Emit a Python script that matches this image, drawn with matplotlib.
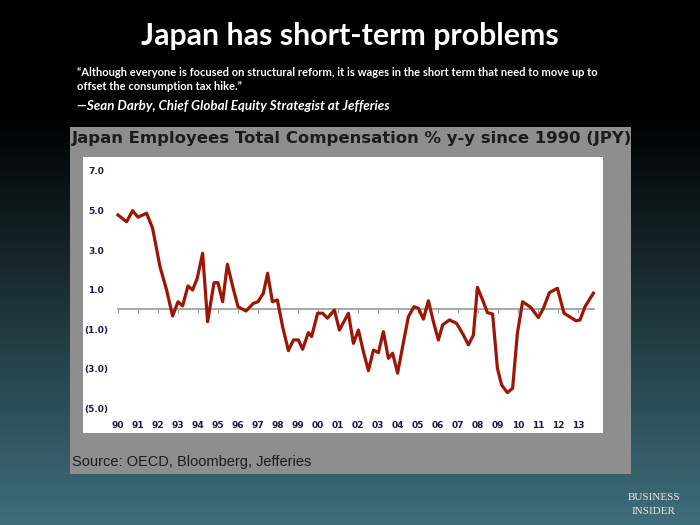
import matplotlib
matplotlib.use('Agg')
import matplotlib.pyplot as plt
import numpy as np
from matplotlib.patches import Rectangle
from matplotlib.colors import LinearSegmentedColormap

# decimal year, % y-y
years = [1990.0, 1990.43, 1990.73, 1991.0, 1991.43, 1991.73, 1992.1, 1992.43, 1992.73,
         1993.0, 1993.23, 1993.5, 1993.73, 1993.96, 1994.23, 1994.48, 1994.8, 1995.0,
         1995.23, 1995.47, 1995.75, 1996.0, 1996.4, 1996.77, 1997.0, 1997.27, 1997.48,
         1997.72, 1997.97, 1998.23, 1998.52, 1998.77, 1999.02, 1999.23, 1999.52, 1999.68,
         1999.98, 2000.23, 2000.47, 2000.82, 2001.07, 2001.52, 2001.77, 2002.02, 2002.27,
         2002.52, 2002.77, 2003.02, 2003.27, 2003.52, 2003.73, 2003.98, 2004.23, 2004.52,
         2004.8, 2005.02, 2005.27, 2005.52, 2005.77, 2006.02, 2006.23, 2006.57, 2006.93,
         2007.27, 2007.52, 2007.77, 2007.97, 2008.23, 2008.47, 2008.73, 2008.97, 2009.18,
         2009.47, 2009.73, 2009.97, 2010.23, 2010.63, 2011.02, 2011.27, 2011.57, 2011.97,
         2012.3, 2012.9, 2013.1, 2013.35, 2013.77]
comp = [4.77, 4.43, 4.99, 4.66, 4.86, 4.1, 2.16, 0.98, -0.33,
        0.39, 0.18, 1.19, 0.98, 1.57, 2.84, -0.62, 1.35, 1.35,
        0.39, 2.28, 1.1, 0.14, -0.08, 0.31, 0.39, 0.82, 1.83,
        0.39, 0.48, -0.87, -2.08, -1.54, -1.54, -2.01, -1.17, -1.37,
        -0.19, -0.19, -0.44, -0.03, -1.04, -0.19, -1.71, -1.04, -2.13,
        -3.09, -2.05, -2.18, -1.12, -2.47, -2.21, -3.22, -1.88, -0.36,
        0.14, 0.06, -0.49, 0.44, -0.62, -1.54, -0.78, -0.53, -0.70,
        -1.29, -1.79, -1.29, 1.12, 0.48, -0.16, -0.23, -2.97, -3.81,
        -4.2, -3.98, -1.2, 0.39, 0.11, -0.41, 0.06, 0.85, 1.07,
        -0.19, -0.57, -0.53, 0.14, 0.82]

tick_years = list(range(1990, 2014))
tick_labels = ['%02d' % (y % 100) for y in tick_years]
y_ticks = [7, 5, 3, 1, -1, -3, -5]
y_labels = ['7.0', '5.0', '3.0', '1.0', '(1.0)', '(3.0)', '(5.0)']

W, H = 700, 525
fig = plt.figure(figsize=(7, 5.25), dpi=100)

# slide background: black at top fading to teal
bg = fig.add_axes([0, 0, 1, 1], zorder=-10)
rows = np.linspace(0, 1, 256).reshape(-1, 1)
cmap = LinearSegmentedColormap.from_list('slide', [(0, '#000000'), (0.22, '#000000'), (1, '#3f6e7c')])
bg.imshow(rows, aspect='auto', cmap=cmap, extent=[0, 1, 1, 0])
bg.axis('off')


def fx(px):
    return px / W


def fy(py):
    return 1 - py / H


fig.text(0.5, fy(36), 'Japan has short-term problems', color='white', fontsize=21.8,
         fontweight='bold', family='Lato', ha='center', va='center')
fig.text(fx(77), fy(72), '\u201cAlthough everyone is focused on structural reform, it is wages in the short term that need to move up to',
         color='white', fontsize=8.05, fontweight='bold', family='Lato', va='center')
fig.text(fx(77), fy(87), 'offset the consumption tax hike.\u201d',
         color='white', fontsize=8.05, fontweight='bold', family='Lato', va='center')
fig.text(fx(77), fy(106), '\u2014Sean Darby, Chief Global Equity Strategist at Jefferies',
         color='white', fontsize=9.6, fontweight='bold', style='italic', family='Lato', va='center')

# grey chart panel
fig.patches.append(Rectangle((fx(70), fy(474)), fx(561), 347 / H, transform=fig.transFigure,
                             facecolor='#8e8e8e', edgecolor='none', zorder=-5))
fig.text(fx(72), fy(139), 'Japan Employees Total Compensation % y-y since 1990 (JPY)',
         color='#1c1c1c', fontsize=11.85, fontweight='bold', family='DejaVu Sans', va='center')
fig.text(fx(72), fy(462), 'Source: OECD, Bloomberg, Jefferies', color='#1c1c1c',
         fontsize=10.5, family='Liberation Sans', va='center')

ax = fig.add_axes([fx(83), fy(433), 520 / W, 276 / H])
ax.set_facecolor('white')
ax.plot(years, comp, color='#9c1606', lw=2.3, solid_joinstyle='round', zorder=3)
ax.set_xlim(1988.25, 2014.25)
ax.set_ylim(-6.24, 7.70)

for s in ['top', 'right', 'left']:
    ax.spines[s].set_visible(False)
ax.spines['bottom'].set_position(('data', 0))
ax.spines['bottom'].set_bounds(1990, 2013.8)
ax.spines['bottom'].set_color('#9a9a9a')
ax.spines['bottom'].set_linewidth(1.2)
ax.set_xticks(tick_years)
ax.tick_params(axis='x', direction='out', length=3, color='#9a9a9a', labelbottom=False)

ax.set_yticks(y_ticks, y_labels)
ax.tick_params(axis='y', length=0, pad=-9.4, labelsize=6.5, labelcolor='#1a1a40')
for lbl in ax.get_yticklabels():
    lbl.set_ha('center')
    lbl.set_fontweight('bold')

sec = ax.secondary_xaxis(0.05)
sec.set_xticks(tick_years, tick_labels)
sec.tick_params(length=0, pad=1, labelsize=6.5, labelcolor='#1a1a40')
sec.spines['bottom'].set_visible(False)
for lbl in sec.get_xticklabels():
    lbl.set_fontweight('bold')

fig.text(fx(654), fy(498), 'BUSINESS', color='#e8e8e8', fontsize=8, family='Liberation Serif',
         ha='center', va='center')
fig.text(fx(654), fy(511), 'INSIDER', color='#e8e8e8', fontsize=8, family='Liberation Serif',
         ha='center', va='center')

fig.savefig('out.png', dpi=100)
